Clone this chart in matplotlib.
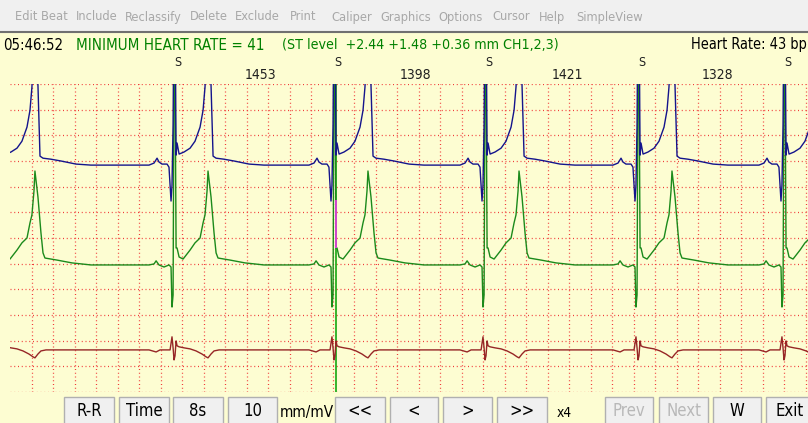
from matplotlib import pyplot as plt
from matplotlib import font_manager as fm
from matplotlib.patches import Rectangle
from matplotlib.transforms import blended_transform_factory
import numpy as np

# R peak times (s from left edge of the strip)
r_peak_times = [-0.084, 1.526, 3.014, 4.419, 5.842, 7.200]
beat_labels = ['', 'S', 'S', 'S', 'S', 'S']
rr_labels = [1453, 1398, 1421, 1328]
cursor_time = 3.033
cursor_mark_mv = [0.561, 0.748]

# averaged beat per channel: ms from R peak, mV from channel baseline
ch1_ms = [-233, -186, -158, -140, -112, -65, -47, -28, -19, -9, 0, 9, 19, 28, 47,
          93, 149, 195, 242, 270, 288, 316, 344, 363, 391, 465, 558, 698, 837]
ch1_mv = [0, 0.008, 0.027, 0.012, 0.004, 0.004, -0.008, -0.140, -0.078, 0.156, 0.682,
          0.682, 0.039, 0.086, 0.043, 0.051, 0.066, 0.093, 0.148, 0.214, 0.304, 0.584,
          0.312, 0.035, 0.027, 0.023, 0.016, 0.004, 0]

ch2_ms = [-233, -186, -167, -140, -93, -47, -28, -19, -9, 0, 9, 19, 28, 47, 84, 149,
          195, 242, 270, 288, 307, 316, 326, 344, 372, 391, 409, 521, 660, 837]
ch2_mv = [0, 0.004, 0.016, 0, -0.008, 0, -0.008, -0.164, -0.117, 0.779, 0.779, 0.066,
          0.066, 0.031, 0.023, 0.058, 0.086, 0.105, 0.164, 0.195, 0.288, 0.366, 0.331,
          0.265, 0.125, 0.047, 0.027, 0.019, 0.008, 0]

ch3_ms = [-233, -167, -130, -37, -19, -9, 0, 9, 19, 28, 47, 93, 149, 205, 260, 298,
          316, 344, 372, 419, 837]
ch3_mv = [0, -0.008, 0, 0, 0.051, 0.008, -0.039, -0.023, 0.035, 0.016, 0.012, 0.008,
          0.004, -0.004, -0.016, -0.027, -0.031, -0.016, -0.004, 0, 0]

menu_items = ['Edit Beat', 'Include', 'Reclassify', 'Delete', 'Exclude', 'Print',
              'Caliper', 'Graphics', 'Options', 'Cursor', 'Help', 'SimpleView']
clock = '05:46:52'
event_text = 'MINIMUM HEART RATE = 41'
st_text = '(ST level  +2.44 +1.48 +0.36 mm CH1,2,3)'
hr_text = 'Heart Rate: 43 bp'

# ---- layout / style ----
W, H = 808, 423
BG = '#fdfdd2'
plt.rcParams['font.family'] = ['Liberation Sans', 'DejaVu Sans']
offsets = [0.884, 0.495, 0.164]
colors = ['#14148c', '#1b8a1b', '#962626']
px_per_s = 107.5


def narrow_font():
    """window font is a narrow sans; use one if the system has it"""
    prefs = ['liberationsansnarrow-regular', 'dejavusanscondensed.', 'notosans-condensed.',
             'notosans-semicondensed.', 'opensans_condensed-regular', 'roboto_condensed-regular']
    files = [f.fname for f in fm.fontManager.ttflist]
    for p in prefs:
        for fn in files:
            if p in fn.lower().replace(' ', ''):
                return fm.FontProperties(fname=fn)
    return fm.FontProperties(family='Liberation Sans')


NARROW = narrow_font()


def strip(ms, mv, offset):
    t, v = [], []
    for r in r_peak_times:
        t.extend(r + np.array(ms) / 1000.0)
        v.extend(offset + np.array(mv))
    return t, v


fig = plt.figure(figsize=(W / 100, H / 100), dpi=100, facecolor=BG)
renderer = fig.canvas.get_renderer()


def label(ax, x, y, s, size, width=None, **kw):
    fp = NARROW.copy()
    fp.set_size(size)
    t = ax.text(x, y, s, fontproperties=fp, va='center', **kw)
    if width:
        w = t.get_window_extent(renderer).width
        if w > width:
            fp.set_size(size * width / w)
            t.set_fontproperties(fp)
    return t


# window chrome, pixel coords
ui = fig.add_axes([0, 0, 1, 1])
ui.set_xlim(0, W)
ui.set_ylim(H, 0)
ui.axis('off')
ui.add_patch(Rectangle((0, 0), W, 32, fc='#f0f0f0', ec='none'))
ui.plot([0, W], [32.5, 32.5], color='#707070', lw=1.5)

menu_x = [15, 76, 125, 190, 235, 290, 331, 380, 438, 492, 539, 576]
for x, s in zip(menu_x, menu_items):
    label(ui, x, 17, s, 9.2, color='#a8a8a8')

label(ui, 3, 45, clock, 13.5, 60, color='black')
label(ui, 76, 45, event_text, 13.5, 188, color='#008000')
label(ui, 282, 45, st_text, 13.5, 278, color='#008000')
label(ui, 691, 45, hr_text, 13.5, 116, color='black')

buttons = [('R-R', 64, 114, True), ('Time', 119, 169, True), ('8s', 173, 223, True),
           ('10', 228, 277, True), ('<<', 335, 385, True), ('<', 390, 438, True),
           ('>', 443, 492, True), ('>>', 497, 547, True), ('Prev', 605, 653, False),
           ('Next', 659, 708, False), ('W', 713, 761, True), ('Exit', 766, 814, True)]
for lab, x0, x1, on in buttons:
    ui.add_patch(Rectangle((x0, 397), x1 - x0, 30, fc='#f0f0f0', ec='#b0b0b0', lw=1))
    label(ui, (x0 + x1) / 2, 411, lab, 12, ha='center', color='black' if on else '#b8b8b8')
label(ui, 280, 413, 'mm/mV', 12, 54)
label(ui, 557, 413, 'x4', 12, 15)

# ECG strip: 8 s window, 0.2 s / 0.1 mV grid
left, top, bottom = 10, 84, 392
ax = fig.add_axes([left / W, 1 - bottom / H, 8 * px_per_s / W, (bottom - top) / H])
ax.set_facecolor(BG)
ax.set_xlim(0, 8)
ax.set_ylim(0, 1.2)
for s in ax.spines.values():
    s.set_visible(False)
ax.set_xticks([])
ax.set_yticks([])

grid_kw = dict(color='#f03a3a', lw=0.9, ls=(0, (0.8, 2.2)), zorder=1)
for gx in np.arange(0.2, 8.01, 0.2):
    ax.axvline(gx, **grid_kw)
for gy in np.arange(0, 1.21, 0.1):
    ax.axhline(gy, **grid_kw)

ax.axvline(cursor_time, color='#00a000', lw=1.1, zorder=2)
ax.vlines(cursor_time, cursor_mark_mv[0], cursor_mark_mv[1], color='#ff30ff', lw=1.1, zorder=5)

for (ms, mv), off, c in zip([(ch3_ms, ch3_mv), (ch2_ms, ch2_mv), (ch1_ms, ch1_mv)],
                            offsets[::-1], colors[::-1]):
    t, v = strip(ms, mv, off)
    ax.plot(t, v, color=c, lw=1.0, zorder=3)

# beat labels and R-R intervals above the strip
tr = blended_transform_factory(ax.transData, fig.transFigure)
s_pos = [r + 0.037 for r in r_peak_times]
for x, lab in zip(s_pos, beat_labels):
    if lab:
        ax.text(x, 1 - 62 / H, lab, transform=tr, fontproperties=NARROW, fontsize=9,
                ha='center', va='center', color='#202020', clip_on=False)
for i, rr in enumerate(rr_labels):
    xm = (s_pos[i + 1] + s_pos[i + 2]) / 2 + 0.02
    ax.text(xm, 1 - 75 / H, str(rr), transform=tr, fontproperties=NARROW, fontsize=10,
            ha='center', va='center', color='#202020', clip_on=False)

fig.savefig('out.png', dpi=100, facecolor=BG)
